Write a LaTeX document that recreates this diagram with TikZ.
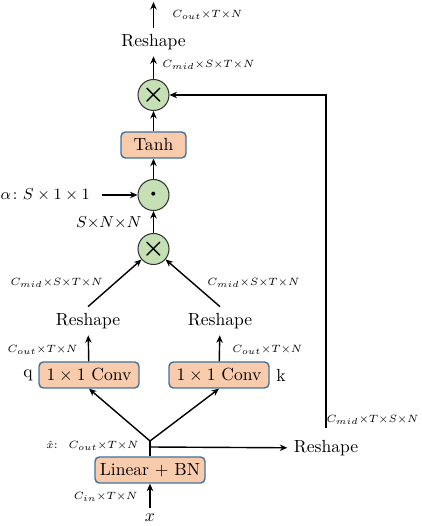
\documentclass[tikz,border=0pt]{standalone}
\usepackage{amsmath,amssymb}
\usepackage{tikz}
\usetikzlibrary{arrows.meta}
\usepackage{xcolor}
\definecolor{boxfill}{HTML}{F8CBAD}
\definecolor{boxline}{HTML}{41719C}
\definecolor{opfill}{HTML}{C5E0B4}

\begin{document}
\begin{tikzpicture}[>={Stealth[length=1.5mm,width=1.3mm]},line width=0.8pt,
  blk/.style={draw=boxline,fill=boxfill,rounded corners=2.5pt,minimum height=0.52cm,inner sep=1pt},
  op/.style={draw=black!80,fill=opfill,circle,minimum size=0.62cm,inner sep=0pt,line width=0.6pt},
  dim/.style={font=\fontsize{6.4pt}{8pt}\selectfont,inner sep=1pt}]
\useasboundingbox (0,0) rectangle (8.44,10.52);
% main column
\node (x) at (3.0,0.16) {$x$};
\node[blk,minimum width=2.2cm] (lin) at (3.0,1.12) {Linear + BN};
\coordinate (split) at (3.0,1.58);
\coordinate (fork) at (3.0,1.70);
\node[blk,minimum width=2.0cm] (convq) at (1.78,3.02) {$1\times1$ Conv};
\node[blk,minimum width=2.0cm] (convk) at (4.38,3.02) {$1\times1$ Conv};
\node (q) at (0.56,3.02) {q};
\node (k) at (5.62,3.02) {k};
\node (rsq) at (1.76,4.10) {Reshape};
\node (rsk) at (4.40,4.10) {Reshape};
\node[op] (mul) at (3.07,5.54) {\Large$\boldsymbol{\times}$};
\node[op] (dot) at (3.07,6.62) {\Large$\boldsymbol{\cdot}$};
\node[anchor=west,inner sep=0pt,font=\small] (alpha) at (0.0,6.62) {$\alpha\colon S\times1\times1$};
\node[blk,minimum width=1.3cm] (tanh) at (3.07,7.62) {Tanh};
\node[op] (mulout) at (3.07,8.62) {\Large$\boldsymbol{\times}$};
\node (rsout) at (3.07,9.68) {Reshape};
\coordinate (top) at (3.07,10.48);
\node (rsx) at (6.52,1.56) {Reshape};
% connectors
\draw[->] (x) -- (lin);
\draw (lin) -- (fork);
\draw[->] (fork) -- (convq.south);
\draw[->] (fork) -- (convk.south);
\draw[->] (split) -- (rsx);
\draw[->] (convq) -- (rsq);
\draw[->] (convk) -- (rsk);
\draw[->] (rsq.north) -- (mul);
\draw[->] (rsk.north) -- (mul);
\draw[->] (mul) -- (dot);
\draw[->] ([xshift=0.24cm]alpha.east) -- (dot);
\draw[->] (dot) -- (tanh);
\draw[->] (tanh) -- (mulout);
\draw[->] (mulout) -- (rsout);
\draw[->] (rsout) -- (top);
\draw[->] ([yshift=0.12cm]rsx.north) |- (mulout);
% sizes
\node[dim,anchor=east] at (2.80,0.58) {$C_{in}{\times}T{\times}N$};
\node[dim,anchor=east] at (2.82,1.60) {$\hat{x}$: \ $C_{out}{\times}T{\times}N$};
\node[dim,anchor=east] at (1.60,3.52) {$C_{out}{\times}T{\times}N$};
\node[dim,anchor=west] at (4.60,3.52) {$C_{out}{\times}T{\times}N$};
\node[dim,anchor=east] at (2.10,4.86) {$C_{mid}{\times}S{\times}T{\times}N$};
\node[dim,anchor=west] at (4.10,4.86) {$C_{mid}{\times}S{\times}T{\times}N$};
\node[dim,anchor=east,font=\small] at (2.88,6.06) {$S{\times}N{\times}N$};
\node[dim,anchor=west] at (3.20,9.22) {$C_{mid}{\times}S{\times}T{\times}N$};
\node[dim,anchor=west] at (3.40,10.22) {$C_{out}{\times}T{\times}N$};
\node[dim,anchor=east,font=\fontsize{6pt}{7.5pt}\selectfont] at (8.42,2.12) {$C_{mid}{\times}T{\times}S{\times}N$};
\end{tikzpicture}
\end{document}
